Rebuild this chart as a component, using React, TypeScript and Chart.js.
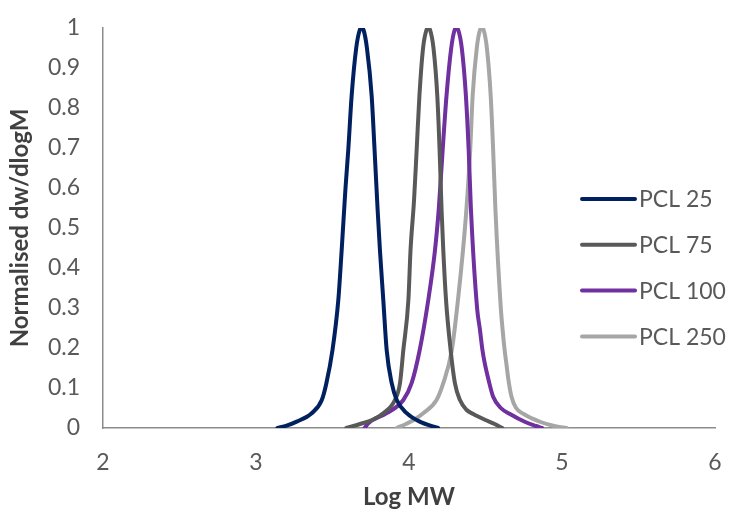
import React, { useEffect, useRef } from "react";
import { Chart, registerables } from "chart.js";

Chart.register(...registerables);

const seriesLabels = ["PCL 25", "PCL 75", "PCL 100", "PCL 250"];
const seriesColors = ["#002060", "#595959", "#7030A0", "#A6A6A6"];

const xTicks = [2, 3, 4, 5, 6];
const yTicks = [0, 0.1, 0.2, 0.3, 0.4, 0.5, 0.6, 0.7, 0.8, 0.9, 1];

const pcl25X = [3.14, 3.20, 3.266, 3.364, 3.43, 3.46, 3.50, 3.538, 3.56, 3.585, 3.603, 3.625, 3.655, 3.678, 3.69, 3.703, 3.725, 3.756, 3.775, 3.795, 3.81, 3.832, 3.854, 3.887, 3.92, 3.985, 4.07, 4.19];
const pcl25Y = [0, 0.006, 0.016, 0.037, 0.07, 0.112, 0.195, 0.32, 0.445, 0.60, 0.695, 0.83, 0.95, 0.995, 1.0, 0.995, 0.95, 0.83, 0.695, 0.545, 0.445, 0.32, 0.195, 0.112, 0.07, 0.037, 0.016, 0];

const pcl75X = [3.59, 3.68, 3.76, 3.832, 3.908, 3.941, 3.963, 3.996, 4.01, 4.033, 4.05, 4.068, 4.092, 4.114, 4.126, 4.138, 4.16, 4.185, 4.20, 4.213, 4.224, 4.242, 4.272, 4.30, 4.333, 4.377, 4.42, 4.50, 4.56, 4.61];
const pcl75Y = [0, 0.01, 0.02, 0.037, 0.07, 0.112, 0.195, 0.32, 0.445, 0.57, 0.695, 0.83, 0.95, 0.995, 1.0, 0.995, 0.95, 0.83, 0.695, 0.545, 0.445, 0.32, 0.195, 0.112, 0.07, 0.045, 0.035, 0.02, 0.01, 0];

const pcl100X = [3.71, 3.734, 3.854, 3.963, 4.017, 4.07, 4.126, 4.17, 4.195, 4.22, 4.245, 4.276, 4.298, 4.31, 4.322, 4.345, 4.372, 4.39, 4.405, 4.445, 4.464, 4.48, 4.495, 4.52, 4.55, 4.60, 4.66, 4.76, 4.83, 4.87];
const pcl100Y = [0, 0.012, 0.037, 0.07, 0.112, 0.195, 0.32, 0.445, 0.55, 0.695, 0.83, 0.95, 0.995, 1.0, 0.995, 0.95, 0.83, 0.695, 0.545, 0.30, 0.245, 0.195, 0.162, 0.12, 0.078, 0.05, 0.035, 0.015, 0.005, 0];

const pcl250X = [3.92, 3.98, 4.03, 4.093, 4.18, 4.224, 4.28, 4.32, 4.353, 4.375, 4.40, 4.416, 4.443, 4.464, 4.476, 4.488, 4.509, 4.534, 4.55, 4.565, 4.60, 4.612, 4.625, 4.636, 4.65, 4.67, 4.70, 4.75, 4.86, 4.95, 5.03];
const pcl250Y = [0, 0.01, 0.02, 0.037, 0.07, 0.112, 0.195, 0.32, 0.445, 0.545, 0.695, 0.83, 0.95, 0.995, 1.0, 0.995, 0.95, 0.83, 0.695, 0.545, 0.30, 0.245, 0.195, 0.162, 0.12, 0.078, 0.05, 0.035, 0.015, 0.005, 0];

const seriesX = [pcl25X, pcl75X, pcl100X, pcl250X];
const seriesY = [pcl25Y, pcl75Y, pcl100Y, pcl250Y];

const FONT = "Lato, 'Open Sans', sans-serif";
const TEXT = "#595959";

const insideLegend = {
  id: "insideLegend",
  afterDraw(chart: any) {
    const { ctx, chartArea } = chart;
    const x0 = chartArea.left + (chartArea.right - chartArea.left) * 0.7827;
    const lineLen = 53;
    const y0 = chartArea.top + (chartArea.bottom - chartArea.top) * 0.4275;
    const gap = 45.8;
    ctx.save();
    ctx.font = "23px " + FONT;
    ctx.textBaseline = "middle";
    ctx.textAlign = "left";
    chart.data.datasets.forEach((ds: any, i: number) => {
      const y = y0 + i * gap;
      ctx.strokeStyle = ds.borderColor;
      ctx.lineWidth = 4;
      ctx.lineCap = "round";
      ctx.beginPath();
      ctx.moveTo(x0, y);
      ctx.lineTo(x0 + lineLen, y);
      ctx.stroke();
      ctx.fillStyle = TEXT;
      ctx.fillText(ds.label, x0 + lineLen + 4, y + 1);
    });
    ctx.restore();
  },
};

export default function App() {
  const ref = useRef<HTMLCanvasElement | null>(null);
  useEffect(() => {
    if (!ref.current) return;
    const chart = new Chart(ref.current, {
      type: "scatter",
      data: {
        datasets: seriesLabels.map((label, i) => ({
          label,
          data: seriesX[i].map((x, j) => ({ x, y: seriesY[i][j] })),
          showLine: true,
          borderColor: seriesColors[i],
          backgroundColor: seriesColors[i],
          borderWidth: 4,
          pointRadius: 0,
          borderCapStyle: "round",
          borderJoinStyle: "round",
          cubicInterpolationMode: "monotone",
        })),
      },
      options: {
        animation: false,
        responsive: false,
        layout: { padding: { top: 28, right: 17, left: 0, bottom: 0 } },
        plugins: { legend: { display: false }, tooltip: { enabled: false } },
        scales: {
          x: {
            type: "linear",
            min: 2,
            max: 6,
            afterBuildTicks: (s: any) => {
              s.ticks = xTicks.map((v) => ({ value: v }));
            },
            afterFit: (s: any) => {
              s.height = 89;
              s.paddingLeft = 0;
              s.paddingRight = 0;
            },
            grid: { display: false, drawTicks: false },
            border: { display: true, color: "#8c8c8c", width: 1.5 },
            ticks: { color: TEXT, font: { family: FONT, size: 23 }, padding: 21 },
            title: {
              display: true,
              text: "Log MW",
              color: "#404040",
              font: { family: FONT, size: 24, weight: "bold" },
              padding: { top: 0, bottom: 5 },
            },
          },
          y: {
            type: "linear",
            min: 0,
            max: 1,
            afterBuildTicks: (s: any) => {
              s.ticks = yTicks.map((v) => ({ value: v }));
            },
            afterFit: (s: any) => {
              s.width = 103;
              s.paddingTop = 0;
              s.paddingBottom = 0;
            },
            grid: { display: false, drawTicks: false },
            border: { display: true, color: "#8c8c8c", width: 1.5 },
            ticks: {
              color: TEXT,
              font: { family: FONT, size: 23 },
              padding: 23,
              callback: (v: any) => String(Number(Number(v).toFixed(1))),
            },
            title: {
              display: true,
              text: "Normalised dw/dlogM",
              color: "#404040",
              font: { family: FONT, size: 24, weight: "bold" },
              padding: { top: 6, bottom: 0 },
            },
          },
        },
      },
      plugins: [insideLegend],
    });
    return () => chart.destroy();
  }, []);
  return (
    <div style={{ position: "fixed", left: 0, top: 0, width: 732, height: 517, background: "#fff" }}>
      <canvas ref={ref} width={732} height={517} />
    </div>
  );
}
